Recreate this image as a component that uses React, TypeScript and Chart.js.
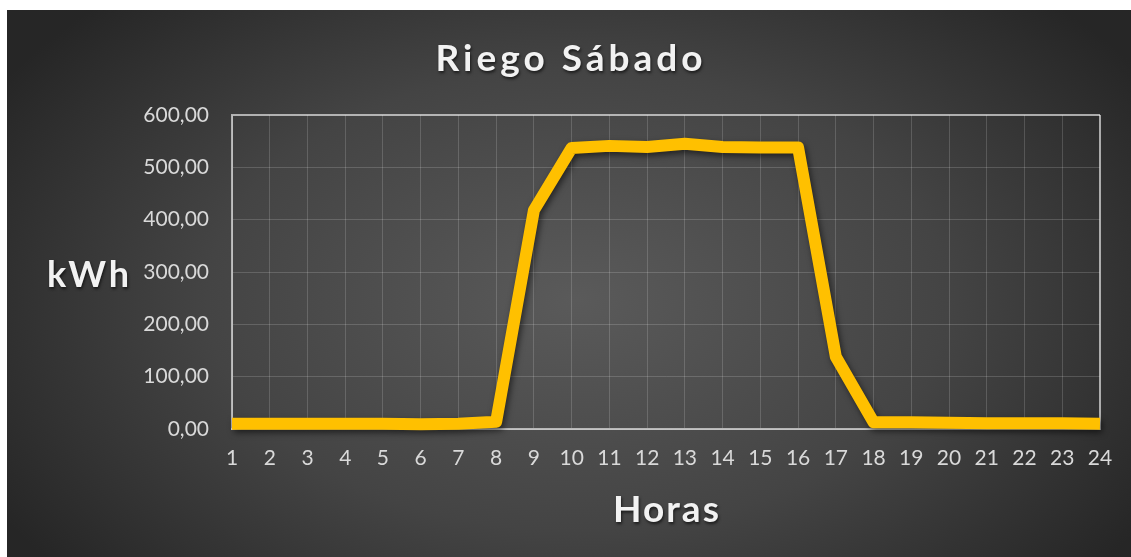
import React, { useEffect, useRef } from "react";
import { Chart, registerables } from "chart.js";

Chart.register(...registerables);

const hours = ["1","2","3","4","5","6","7","8","9","10","11","12","13","14","15","16","17","18","19","20","21","22","23","24"];
const kwh = [10, 10, 10, 10, 10, 9, 10, 14, 418, 537, 541, 539, 545, 539, 538, 538, 138, 13, 13, 12, 11, 11, 11, 10];
const yTickLabels = ["0,00", "100,00", "200,00", "300,00", "400,00", "500,00", "600,00"];
const chartTitle = "Riego Sábado";
const xTitle = "Horas";
const yTitle = "kWh";

const W = 1124;
const H = 547;

export default function App() {
  const ref = useRef<HTMLCanvasElement | null>(null);

  useEffect(() => {
    if (!ref.current) return;
    const bgPlugin = {
      id: "bg",
      beforeDraw(chart: any) {
        const ctx = chart.ctx;
        ctx.save();
        const cx = 570, cy = 290;
        ctx.translate(cx, cy);
        ctx.scale(1.6, 1);
        const g = ctx.createRadialGradient(0, 0, 0, 0, 0, 420);
        g.addColorStop(0, "#5a5a5a");
        g.addColorStop(0.55, "#444444");
        g.addColorStop(1, "#262626");
        ctx.fillStyle = g;
        ctx.fillRect(-cx / 1.6 - 10, -cy - 10, W / 1.6 + 20, H + 20);
        ctx.restore();
      },
    };
    const shadowPlugin = {
      id: "lineShadow",
      beforeDatasetDraw(chart: any) {
        const ctx = chart.ctx;
        ctx.save();
        ctx.shadowColor = "rgba(0,0,0,0.55)";
        ctx.shadowBlur = 6;
        ctx.shadowOffsetX = 2;
        ctx.shadowOffsetY = 3;
      },
      afterDatasetDraw(chart: any) {
        chart.ctx.restore();
      },
    };
    const textPlugin = {
      id: "texts",
      afterDraw(chart: any) {
        const ctx = chart.ctx;
        const area = chart.chartArea;
        const draw = (t: string, x: number, y: number, size: number, spacing: number) => {
          ctx.save();
          ctx.font = `bold ${size}px Lato`;
          (ctx as any).letterSpacing = `${spacing}px`;
          ctx.textAlign = "center";
          ctx.textBaseline = "alphabetic";
          ctx.shadowColor = "rgba(0,0,0,0.6)";
          ctx.shadowBlur = 3;
          ctx.shadowOffsetX = 1;
          ctx.shadowOffsetY = 2;
          ctx.fillStyle = "#f2f2f2";
          ctx.fillText(t, x + spacing / 2, y);
          ctx.restore();
        };
        draw(chartTitle, W / 2, 61, 37, 4);
        draw(yTitle, 81, 277, 36, 3);
        draw(xTitle, (area.left + area.right) / 2, 512, 37, 2);
      },
    };

    const chart = new Chart(ref.current, {
      type: "line",
      data: {
        labels: hours,
        datasets: [
          {
            data: kwh,
            borderColor: "#FFC000",
            backgroundColor: "#FFC000",
            borderWidth: 12,
            borderJoinStyle: "round",
            borderCapStyle: "butt",
            pointRadius: 0,
            tension: 0,
            clip: false as any,
          },
        ],
      },
      options: {
        responsive: false,
        animation: false,
        layout: { padding: { top: 105, right: 31, left: 0, bottom: 0 } },
        plugins: {
          legend: { display: false },
          title: { display: false },
          tooltip: { enabled: false },
        },
        scales: {
          x: {
            afterFit(scale: any) {
              scale.height = 128;
            },
            grid: {
              drawTicks: false,
              color: (c: any) => (c.index === hours.length - 1 ? "rgba(255,255,255,0.6)" : "rgba(255,255,255,0.16)"),
              lineWidth: (c: any) => (c.index === hours.length - 1 ? 2 : 1),
            },
            border: { color: "rgba(255,255,255,0.6)", width: 2 },
            ticks: {
              color: "#d9d9d9",
              font: { family: "Lato", size: 21 },
              padding: 17,
              maxRotation: 0,
              autoSkip: false,
            },
          },
          y: {
            min: 0,
            max: 600,
            afterFit(scale: any) {
              scale.width = 225;
            },
            grid: {
              drawTicks: false,
              color: (c: any) => (c.index === yTickLabels.length - 1 ? "rgba(255,255,255,0.6)" : "rgba(255,255,255,0.16)"),
              lineWidth: (c: any) => (c.index === yTickLabels.length - 1 ? 2 : 1),
            },
            border: { color: "rgba(255,255,255,0.6)", width: 2 },
            ticks: {
              stepSize: 100,
              color: "#d9d9d9",
              font: { family: "Lato", size: 21 },
              padding: 23,
              callback: (_v: any, i: number) => yTickLabels[i],
            },
          },
        },
      },
      plugins: [bgPlugin, shadowPlugin, textPlugin],
    });
    return () => chart.destroy();
  }, []);

  return (
    <div style={{ position: "absolute", left: 7, top: 10, width: W, height: H }}>
      <canvas ref={ref} width={W} height={H} style={{ display: "block" }} />
    </div>
  );
}
